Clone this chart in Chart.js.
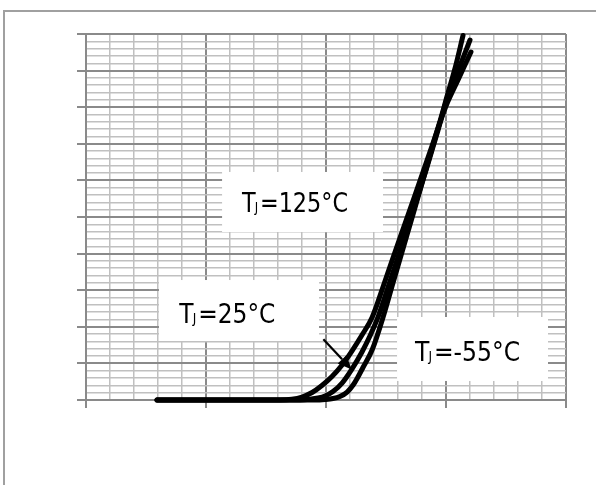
<!DOCTYPE html>
<html><head><meta charset="utf-8">
<script src="https://cdn.jsdelivr.net/npm/chart.js@4/dist/chart.umd.min.js"></script>
<style>
html,body{margin:0;padding:0;background:#fff;}
#wrap{position:relative;width:596px;height:485px;overflow:hidden;}
canvas{display:block;}
</style></head><body>
<div id="wrap"><canvas id="c" width="596" height="485"></canvas></div>
<script>
// ---- data ----
const seriesNames = ['TJ=125°C', 'TJ=25°C', 'TJ=-55°C'];
const labelMain = ['T', 'T', 'T'];
const labelSub = ['J', 'J', 'J'];
const labelRest = ['=125°C', '=25°C', '=-55°C'];

const x125 = [2.96, 8.08, 8.58, 9.0, 9.42, 9.83, 10.25, 10.67, 11.08, 11.5, 11.92, 12.46, 13.08, 13.71, 14.33, 15.0, 15.5, 16.04];
const y125 = [0, 0, 0.1, 0.41, 1.02, 1.98, 3.21, 4.78, 6.69, 8.88, 11.27, 16.26, 22.13, 28.01, 33.88, 40.16, 43.72, 47.54];

const x25 = [2.96, 8.92, 9.33, 9.67, 9.96, 10.29, 10.67, 11.08, 11.5, 11.83, 12.17, 12.67, 13.17, 13.67, 14.17, 14.67, 15.0, 15.5, 16.0];
const y25 = [0, 0, 0.1, 0.27, 0.55, 1.16, 2.32, 4.23, 6.56, 8.74, 11.34, 16.26, 21.17, 26.23, 31.42, 36.89, 40.71, 44.95, 49.18];

const xM55 = [2.96, 9.54, 9.96, 10.29, 10.58, 10.88, 11.13, 11.33, 11.54, 11.92, 12.38, 12.79, 13.21, 13.63, 14.04, 14.46, 14.79, 15.0, 15.38, 15.71];
const yM55 = [0, 0, 0.07, 0.2, 0.48, 1.09, 2.05, 3.14, 4.44, 6.83, 11.34, 15.98, 20.7, 25.41, 30.05, 34.84, 38.52, 40.98, 45.36, 49.8];

// label boxes in data units: [left, top, right, bottom]
const boxes = [[5.67, 31.15, 12.375, 22.95], [3.04, 16.39, 9.71, 8.06], [12.96, 11.34, 19.25, 2.6]];
// text anchors (start x, baseline y) in data units
const textAnchors = [[6.5, 25.72], [3.89, 10.48], [13.71, 5.37]];
// arrow from / to, data units
const arrowFrom = [9.89, 8.29];
const arrowTo = [11.07, 4.17];

const xMin = 0, xMax = 20, xMinorStep = 1, xMajorStep = 5;
const yMin = 0, yMax = 50, yMinorStep = 1, yMajorStep = 5;

function pts(xs, ys) { return xs.map((x, i) => ({x: x, y: ys[i]})); }

const MAJOR = '#8a8a8a', MINOR = '#c0c0c0';
function isMajor(v, step) { return Math.abs(v / step - Math.round(v / step)) < 1e-6; }

const FONT_FAMILY = '"DejaVu Sans Condensed", "DejaVu Sans", sans-serif';
const labelTargetWidths = [106, 96, 105];

const annot = {
  id: 'annot',
  beforeDatasetsDraw(chart) {
    const {ctx, scales: {x, y}} = chart;
    ctx.save();
    ctx.fillStyle = '#ffffff';
    boxes.forEach(b => {
      const l = x.getPixelForValue(b[0]), t = y.getPixelForValue(b[1]);
      const r = x.getPixelForValue(b[2]), bo = y.getPixelForValue(b[3]);
      ctx.fillRect(l, t, r - l, bo - t);
    });
    ctx.restore();
  },
  afterDatasetsDraw(chart) {
    const {ctx, scales: {x, y}} = chart;
    ctx.save();
    ctx.fillStyle = '#000';
    ctx.textBaseline = 'alphabetic';
    ctx.textAlign = 'left';
    const big = '27px ' + FONT_FAMILY, small = '14px ' + FONT_FAMILY;
    textAnchors.forEach((a, i) => {
      const px0 = x.getPixelForValue(a[0]);
      const py = y.getPixelForValue(a[1]);
      ctx.font = big; const w1 = ctx.measureText(labelMain[i]).width;
      const w3 = ctx.measureText(labelRest[i]).width;
      ctx.font = small; const w2 = ctx.measureText(labelSub[i]).width;
      const total = w1 + w2 + 1 + w3;
      const sx = Math.min(1, labelTargetWidths[i] / total);
      ctx.save();
      ctx.translate(px0, py);
      ctx.scale(sx, 1);
      let px = 0;
      ctx.font = big; ctx.fillText(labelMain[i], px, 0); px += w1 - 1;
      ctx.font = small; ctx.fillText(labelSub[i], px, 0); px += w2 + 2;
      ctx.font = big; ctx.fillText(labelRest[i], px, 0);
      ctx.restore();
    });
    // arrow
    const x1 = x.getPixelForValue(arrowFrom[0]), y1 = y.getPixelForValue(arrowFrom[1]);
    const x2 = x.getPixelForValue(arrowTo[0]), y2 = y.getPixelForValue(arrowTo[1]);
    const ang = Math.atan2(y2 - y1, x2 - x1);
    const hl = 14, hw = 6;
    ctx.strokeStyle = '#000'; ctx.lineWidth = 2.2;
    ctx.beginPath(); ctx.moveTo(x1, y1);
    ctx.lineTo(x2 - hl * Math.cos(ang), y2 - hl * Math.sin(ang)); ctx.stroke();
    ctx.beginPath();
    ctx.moveTo(x2, y2);
    ctx.lineTo(x2 - hl * Math.cos(ang) + hw * Math.sin(ang), y2 - hl * Math.sin(ang) - hw * Math.cos(ang));
    ctx.lineTo(x2 - hl * Math.cos(ang) - hw * Math.sin(ang), y2 - hl * Math.sin(ang) + hw * Math.cos(ang));
    ctx.closePath(); ctx.fill();
    ctx.restore();
  },
  afterDraw(chart) {
    const ctx = chart.ctx;
    ctx.save();
    ctx.strokeStyle = '#a0a0a0'; ctx.lineWidth = 2;
    ctx.beginPath(); ctx.moveTo(4, 485); ctx.lineTo(4, 11); ctx.lineTo(596, 11); ctx.stroke();
    ctx.restore();
  }
};

const lineStyle = {
  showLine: true, borderColor: '#000', backgroundColor: '#000', borderWidth: 5,
  pointRadius: 0, pointHoverRadius: 0, cubicInterpolationMode: 'monotone',
  borderCapStyle: 'round', borderJoinStyle: 'round', fill: false, clip: 6
};

new Chart(document.getElementById('c'), {
  type: 'scatter',
  data: {
    datasets: [
      Object.assign({label: seriesNames[0], data: pts(x125, y125)}, lineStyle),
      Object.assign({label: seriesNames[1], data: pts(x25, y25)}, lineStyle),
      Object.assign({label: seriesNames[2], data: pts(xM55, yM55)}, lineStyle)
    ]
  },
  options: {
    responsive: false, animation: false, devicePixelRatio: 1,
    layout: {padding: {top: 34, right: 30, left: 0, bottom: 0}},
    plugins: {legend: {display: false}, tooltip: {enabled: false}},
    scales: {
      x: {
        type: 'linear', position: 'bottom', min: xMin, max: xMax,
        ticks: {display: false, stepSize: xMinorStep, maxTicksLimit: 200},
        grid: {
          color: c => isMajor(c.tick.value, xMajorStep) ? MAJOR : MINOR,
          lineWidth: c => isMajor(c.tick.value, xMajorStep) ? 2 : 1.5,
          tickColor: c => isMajor(c.tick.value, xMajorStep) ? MAJOR : 'rgba(0,0,0,0)',
          tickWidth: 2, tickLength: 8, drawTicks: true
        },
        border: {display: true, color: MAJOR, width: 2},
        afterFit(s) { s.height = 85; }
      },
      y: {
        type: 'linear', position: 'left', min: yMin, max: yMax,
        ticks: {display: false, stepSize: yMinorStep, maxTicksLimit: 200},
        grid: {
          color: c => isMajor(c.tick.value, yMajorStep) ? MAJOR : MINOR,
          lineWidth: c => isMajor(c.tick.value, yMajorStep) ? 2 : 1.5,
          tickColor: c => isMajor(c.tick.value, yMajorStep) ? MAJOR : 'rgba(0,0,0,0)',
          tickWidth: 2, tickLength: 9, drawTicks: true
        },
        border: {display: true, color: MAJOR, width: 2},
        afterFit(s) { s.width = 86; }
      }
    }
  },
  plugins: [annot]
});
</script>
</body></html>
